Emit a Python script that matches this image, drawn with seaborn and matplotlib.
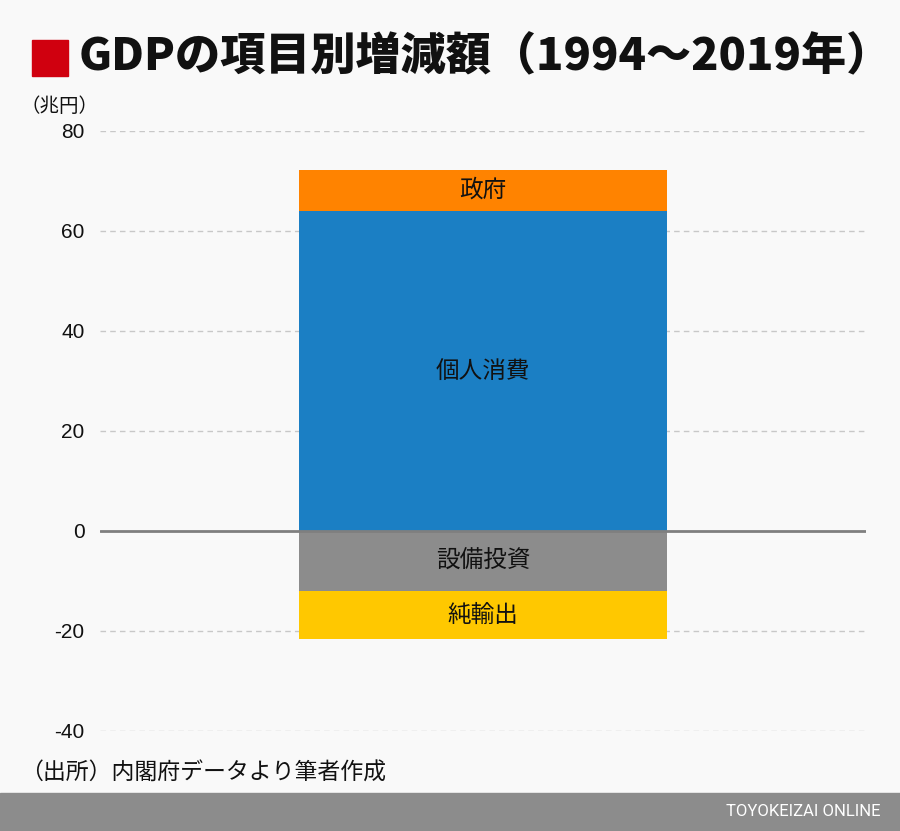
import matplotlib
matplotlib.use("Agg")
from matplotlib import pyplot as plt
import matplotlib.patches as mpatches
import pandas as pd
import seaborn as sns

# components of GDP change 1994-2019 (trillion yen)
items = ["個人消費", "政府", "設備投資", "純輸出"]
values = [64.0, 8.2, -12.0, -9.6]
colors = ["#1b7fc4", "#ff8300", "#8c8c8c", "#ffc800"]
yticks = [-40, -20, 0, 20, 40, 60, 80]

sns.set_theme(style="white")
plt.rcParams["font.family"] = ["Noto Sans CJK JP", "DejaVu Sans"]

bg = "#f9f9f9"
fig = plt.figure(figsize=(9, 8.31), dpi=100, facecolor=bg)
ax = fig.add_axes([100 / 900, 1 - 731 / 831, 766 / 900, 600 / 831])
ax.set_facecolor(bg)

# stack positives upward and negatives downward
pos_base = 0.0
neg_base = 0.0
bottoms = []
for v in values:
    if v >= 0:
        bottoms.append(pos_base)
        pos_base += v
    else:
        bottoms.append(neg_base)
        neg_base += v

for item, v, b, c in zip(items, values, bottoms, colors):
    df = pd.DataFrame({"x": ["GDP"], "y": [v]})
    sns.barplot(data=df, x="x", y="y", bottom=b, color=c, width=0.48,
                errorbar=None, ax=ax, saturation=1, linewidth=0)
    ax.text(0, b + v / 2, item, ha="center", va="center",
            fontsize=17, color="#111111")

ax.set_xlim(-0.5, 0.5)
ax.set_ylim(-40, 80)
ax.set_yticks(yticks)
ax.set_yticklabels([str(t) for t in yticks], fontsize=15, color="#111111",
                   family=["Liberation Sans", "DejaVu Sans"])
ax.tick_params(axis="y", length=0, pad=11)
ax.set_xticks([])
ax.set_xlabel("")
ax.set_ylabel("")
for s in ax.spines.values():
    s.set_visible(False)

for t in yticks:
    if t == 0:
        ax.axhline(0, color="#7f7f7f", lw=2, zorder=3)
    else:
        ax.axhline(t, color="#c8c8c8", lw=1, ls=(0, (4, 3)), zorder=0)

# title block
fig.patches.append(mpatches.Rectangle((32 / 900, 1 - 76 / 831), 36 / 900, 36 / 831,
                                      transform=fig.transFigure, color="#d0000f"))
fig.text(79 / 900, 1 - 57 / 831, "GDPの項目別増減額（1994〜2019年）",
         fontsize=32.5, fontweight="black", va="center", ha="left", color="#111111")
fig.text(20 / 900, 1 - 107 / 831, "（兆円）", fontsize=14, va="center", ha="left",
         color="#111111")
fig.text(20 / 900, 1 - 773 / 831, "（出所）内閣府データより筆者作成", fontsize=16.5,
         va="center", ha="left", color="#111111")

# footer band
fig.patches.append(mpatches.Rectangle((0, 0), 1, 38 / 831,
                                      transform=fig.transFigure, color="#8c8c8c"))
fig.text(880 / 900, 19 / 831, "TOYOKEIZAI ONLINE", fontsize=12, color="white",
         ha="right", va="center", family=["Roboto", "DejaVu Sans"])

fig.savefig("out.png", dpi=100, facecolor=bg)
